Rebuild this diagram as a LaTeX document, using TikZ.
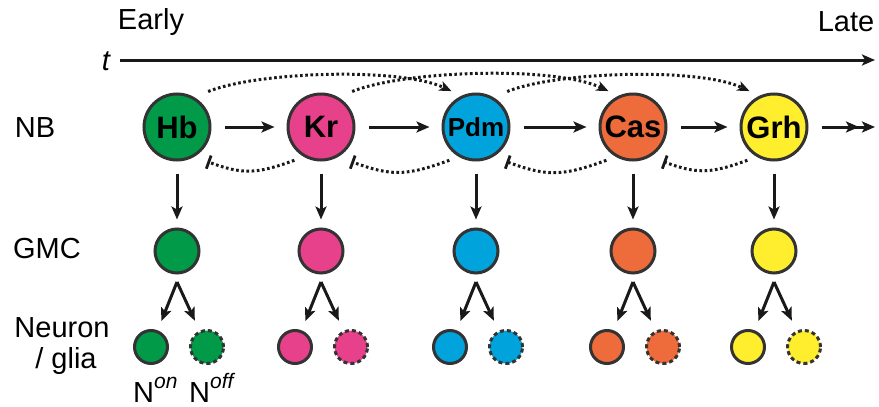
\documentclass[tikz,border=0pt]{standalone}
\usepackage{fontspec}
\setmainfont{Liberation Sans}
\usetikzlibrary{arrows.meta}

\definecolor{edge}{HTML}{333333}
\definecolor{cHb}{HTML}{009A48}
\definecolor{cKr}{HTML}{E8418C}
\definecolor{cPdm}{HTML}{00A3DC}
\definecolor{cCas}{HTML}{EE6B3B}
\definecolor{cGrh}{HTML}{FFEE2E}

\begin{document}
\begin{tikzpicture}[x=1pt,y=1pt,
  nbcell/.style={circle, draw=edge, line width=3pt, minimum size=66pt, inner sep=0pt,
                 font=\fontsize{31}{31}\selectfont\bfseries},
  gmccell/.style={circle, draw=edge, line width=3pt, minimum size=44pt, inner sep=0pt},
  oncell/.style={circle, draw=edge, line width=3pt, minimum size=33pt, inner sep=0pt},
  offcell/.style={oncell, dash pattern=on 4pt off 3pt},
  lbl/.style={font=\fontsize{29}{34}\selectfont, inner sep=0pt},
  arr/.style={line width=3pt, draw=black!90, -{Stealth[length=13pt,width=11pt,inset=3pt]}},
  act/.style={line width=3pt, draw=black!90, dash pattern=on 2.6pt off 2.6pt,
              -{Stealth[length=12pt,width=10pt,inset=3pt]}},
  rep/.style={line width=3pt, draw=black!90, dash pattern=on 2.6pt off 2.6pt,
              -{Bar[width=14pt,line width=2.8pt]}},
]
\useasboundingbox (0,0) rectangle (879,-407);

% time axis
\node[lbl] (early) at (151,-22) {Early};
\node[lbl] (late) at (846,-22) {Late};
\node[lbl, font=\fontsize{29}{34}\selectfont\itshape] (t) at (106,-61) {t};
\coordinate (tend) at (875,-60);
\draw[arr] (120,-60) -- (tend);

% row labels
\node[lbl] (lnb) at (35,-128) {NB};
\node[lbl] (lgmc) at (47,-249) {GMC};
\node[lbl, align=center] (lneu) at (62,-346) {Neuron\\[-3pt]\ / glia};

% neuroblast sequence
\node[nbcell, fill=cHb] (Hb) at (177,-127) {Hb};
\node[nbcell, fill=cKr] (Kr) at (321,-127) {Kr};
\node[nbcell, fill=cPdm, font=\fontsize{26}{26}\selectfont\bfseries] (Pdm) at (476,-127) {Pdm};
\node[nbcell, fill=cCas] (Cas) at (633,-127) {Cas};
\node[nbcell, fill=cGrh] (Grh) at (774,-127) {Grh};
\coordinate (nbend) at (875,-127);

\foreach \a/\b in {Hb/Kr, Kr/Pdm, Pdm/Cas, Cas/Grh}
  \draw[arr, shorten <=13pt, shorten >=12pt] (\a) -- (\b);
\draw[line width=3pt, draw=black!90, shorten <=13pt,
      -{Stealth[length=13pt,width=11pt,inset=3pt,sep=3pt]Stealth[length=13pt,width=11pt,inset=3pt]}] (Grh) -- (nbend);

% activation of the next-but-one factor
\foreach \a/\b in {Hb/Pdm, Kr/Cas, Pdm/Grh}
  \draw[act, shorten <=15pt, shorten >=11pt] (\a.60) to[out=22,in=155,looseness=0.65] (\b.115);

% repression of the preceding factor
\foreach \a/\b in {Kr/Hb, Pdm/Kr, Cas/Pdm, Grh/Cas}
  \draw[rep, shorten <=10pt, shorten >=14pt] (\a.240) to[out=200,in=-20,looseness=1.2] (\b.-60);

% GMCs and their progeny
\foreach \n/\x in {Hb/177, Kr/321, Pdm/476, Cas/633, Grh/774} {
  \node[gmccell, fill=c\n] (g\n) at (\x,-251) {};
  \coordinate (a\n) at (\x,-282);
  \node[oncell, fill=c\n] (on\n) at (\x-26,-347) {};
  \node[offcell, fill=c\n] (off\n) at (\x+30,-347) {};
  \draw[arr, shorten <=12pt, shorten >=8pt] (\n) -- (g\n);
  \draw[arr, shorten >=10pt] (a\n) -- (on\n);
  \draw[arr, shorten >=11pt] (a\n) -- (off\n);
}

% progeny labels
\node[lbl, anchor=base west] (non) at (133,-402)
  {N\raisebox{14pt}{\fontsize{21}{21}\selectfont\itshape on}};
\node[lbl, anchor=base west] (noff) at (189,-402)
  {N\raisebox{14pt}{\fontsize{21}{21}\selectfont\itshape off}};
\end{tikzpicture}
\end{document}
